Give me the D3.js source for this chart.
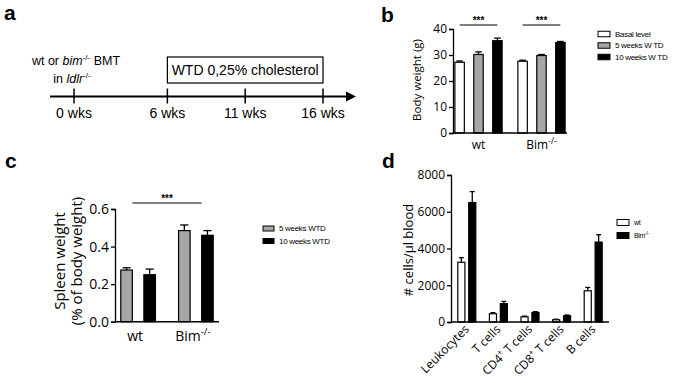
<!DOCTYPE html>
<html>
<head>
<meta charset="utf-8">
<script src="https://cdn.jsdelivr.net/npm/d3@7"></script>
<style>
body { margin: 0; background: #fff; }
svg text { fill: #000; }
.axis path, .axis line { stroke: #000; stroke-width: 1.3; }
</style>
</head>
<body>
<div id="chart"></div>
<script>
// panel a: timeline
const timeWeeks = [0, 6, 11, 16]
const timeLabels = ['0 wks', '6 wks', '11 wks', '16 wks']
const dietWeeks = [6, 16]

// panel b: body weight
const bGroups = ['wt', 'Bim']
const bSeries = ['Basal level', '5 weeks W TD', '10 weeks W TD']
const bMeans = [[27.2, 30.2, 35.5], [27.6, 29.8, 34.8]]
const bErrors = [[0.5, 1.0, 1.0], [0.4, 0.4, 0.4]]
const bTicks = [0, 10, 20, 30, 40]

// panel c: spleen weight
const cGroups = ['wt', 'Bim']
const cSeries = ['5 weeks WTD', '10 weeks WTD']
const cMeans = [[0.275, 0.25], [0.485, 0.46]]
const cErrors = [[0.012, 0.03], [0.03, 0.025]]
const cTicks = [0, 0.2, 0.4, 0.6]

// panel d: blood cell counts
const dGroups = ['Leukocytes', 'T cells', 'CD4 T cells', 'CD8 T cells', 'B cells']
const dSeries = ['wt', 'Bim']
const dMeans = [[3250, 6500], [450, 1000], [280, 520], [120, 340], [1700, 4350]]
const dErrors = [[250, 600], [60, 120], [40, 40], [30, 40], [180, 400]]
const dTicks = [0, 2000, 4000, 6000, 8000]

const W = 675, H = 383
const sans = "'Open Sans', sans-serif"
const arial = "'Liberation Sans', Arial, sans-serif"

const svg = d3.select('#chart').append('svg')
  .attr('width', W).attr('height', H)

// panel letters
const letters = [['a', 4, 20], ['b', 381, 22], ['c', 5, 168], ['d', 382, 168]]
svg.selectAll('.letter').data(letters).enter().append('text')
  .attr('class', 'letter')
  .attr('x', d => d[1]).attr('y', d => d[2])
  .style('font-family', arial).style('font-weight', 'bold').style('font-size', '21px')
  .text(d => d[0])

// label with superscript part, e.g. Bim-/-
function supLabel(sel, base, sup, size) {
  sel.append('tspan').text(base)
  sel.append('tspan').attr('dy', -size * 0.45).style('font-size', (size * 0.7) + 'px').text(sup)
}

// ---------- panel a ----------
function drawTimeline() {
  const g = svg.append('g')
  const x = d3.scaleLinear().domain([0, 16]).range([74, 323])
  const yLine = 96.5
  g.append('line').attr('x1', 50).attr('x2', 348).attr('y1', yLine).attr('y2', yLine)
    .attr('stroke', '#000').attr('stroke-width', 2)
  g.append('path').attr('d', `M346,${yLine - 5}L356,${yLine}L346,${yLine + 5}Z`).attr('fill', '#000')
  g.selectAll('.tk').data(timeWeeks).enter().append('line')
    .attr('x1', d => x(d)).attr('x2', d => x(d)).attr('y1', yLine - 8).attr('y2', yLine + 7)
    .attr('stroke', '#000').attr('stroke-width', 1.5)
  g.selectAll('.tl').data(timeWeeks).enter().append('text')
    .attr('x', d => x(d)).attr('y', 118).attr('text-anchor', 'middle')
    .style('font-family', arial).style('font-size', '14px')
    .text((d, i) => timeLabels[i])
  g.append('rect').attr('x', x(dietWeeks[0])).attr('y', 57)
    .attr('width', x(dietWeeks[1]) - x(dietWeeks[0])).attr('height', 26)
    .attr('fill', 'none').attr('stroke', '#000').attr('stroke-width', 1.2)
  g.append('text').attr('x', (x(dietWeeks[0]) + x(dietWeeks[1])) / 2).attr('y', 75)
    .attr('text-anchor', 'middle').style('font-family', arial).style('font-size', '14px')
    .text('WTD  0,25% cholesterol')
  const t1 = g.append('text').attr('x', 76).attr('y', 65).attr('text-anchor', 'middle')
    .style('font-family', arial).style('font-size', '12.5px')
  t1.append('tspan').text('wt or ')
  t1.append('tspan').style('font-style', 'italic').text('bim')
  t1.append('tspan').attr('dy', -5).style('font-size', '8px').text('-/-')
  t1.append('tspan').attr('dy', 5).text(' BMT')
  const t2 = g.append('text').attr('x', 72).attr('y', 83).attr('text-anchor', 'middle')
    .style('font-family', arial).style('font-size', '12.5px')
  t2.append('tspan').text('in ')
  t2.append('tspan').style('font-style', 'italic').text('ldlr')
  t2.append('tspan').attr('dy', -5).style('font-size', '8px').text('-/-')
}

// ---------- bar panels ----------
function drawBars(o) {
  const g = svg.append('g')
  const x0 = d3.scaleBand().domain(o.groups).range(o.xRange)
    .paddingInner(o.padGroup[0]).paddingOuter(o.padGroup[1])
  const x1 = d3.scaleBand().domain(o.series).range([0, x0.bandwidth()])
    .paddingInner(o.padBar).paddingOuter(0)
  const y = d3.scaleLinear().domain([0, o.ticks[o.ticks.length - 1]]).range(o.yRange)

  const rows = []
  o.groups.forEach((gr, i) => o.series.forEach((s, j) => {
    rows.push({ gr, s, j, m: o.means[i][j], e: o.errors[i][j] })
  }))
  const bx = d => x0(d.gr) + x1(d.s)
  const bw = x1.bandwidth()

  // error bars
  const eb = g.selectAll('.eb').data(rows).enter().append('g').attr('class', 'eb')
    .attr('stroke', '#000').attr('stroke-width', 1.3)
  eb.append('line').attr('x1', d => bx(d) + bw / 2).attr('x2', d => bx(d) + bw / 2)
    .attr('y1', d => y(o.both ? d.m - d.e : d.m)).attr('y2', d => y(d.m + d.e))
  eb.append('line').attr('x1', d => bx(d) + bw * 0.15).attr('x2', d => bx(d) + bw * 0.85)
    .attr('y1', d => y(d.m + d.e)).attr('y2', d => y(d.m + d.e))
  if (o.both) {
    eb.append('line').attr('x1', d => bx(d) + bw * 0.15).attr('x2', d => bx(d) + bw * 0.85)
      .attr('y1', d => y(d.m - d.e)).attr('y2', d => y(d.m - d.e))
  }

  g.selectAll('.bar').data(rows).enter().append('rect')
    .attr('x', bx).attr('width', bw)
    .attr('y', d => y(d.m)).attr('height', d => y(0) - y(d.m))
    .attr('fill', d => o.fills[d.j]).attr('stroke', '#000').attr('stroke-width', 1.2)

  g.append('g').attr('class', 'axis')
    .attr('transform', `translate(${o.xRange[0]},0)`)
    .call(d3.axisLeft(y).tickValues(o.ticks).tickSize(4).tickPadding(2).tickFormat(o.fmt))
    .call(a => a.selectAll('text').style('font-family', sans).style('font-size', o.tickSize + 'px'))
  g.append('line').attr('x1', o.xRange[0]).attr('x2', o.xRange[1])
    .attr('y1', y(0)).attr('y2', y(0)).attr('stroke', '#000').attr('stroke-width', 1.5)

  return { g, x0, x1, y }
}

function legend(items, fills, x, y0, dy, size, w, h) {
  const g = svg.append('g')
  items.forEach((t, i) => {
    g.append('rect').attr('x', x).attr('y', y0 + i * dy - h / 2).attr('width', w).attr('height', h)
      .attr('fill', fills[i]).attr('stroke', '#000').attr('stroke-width', 1)
    const tx = g.append('text').attr('x', x + w + 5).attr('y', y0 + i * dy + size * 0.35)
      .style('font-family', arial).style('font-size', size + 'px').style('letter-spacing', '-0.3px')
    if (t === 'Bim') supLabel(tx, 'Bim', '-/-', size)
    else tx.text(t)
  })
}

function sigBar(xa, xb, yy, size) {
  svg.append('line').attr('x1', xa).attr('x2', xb).attr('y1', yy).attr('y2', yy)
    .attr('stroke', '#000').attr('stroke-width', 1.2)
  svg.append('text').attr('x', (xa + xb) / 2).attr('y', yy - 1).attr('text-anchor', 'middle')
    .style('font-family', arial).style('font-weight', 'bold').style('font-size', size + 'px')
    .text('***')
}

drawTimeline()

// panel b
const bFills = ['#fff', '#a6a6a6', '#000']
const B = drawBars({
  groups: bGroups, series: bSeries, means: bMeans, errors: bErrors, ticks: bTicks,
  xRange: [453, 567], yRange: [133, 29], padGroup: [0.25, 0.03], padBar: 0.5,
  fills: bFills, both: false, tickSize: 12, fmt: d3.format('d')
})
bGroups.forEach(gr => {
  sigBar(B.x0(gr) + B.x1(bSeries[0]) + B.x1.bandwidth() / 2,
    B.x0(gr) + B.x1(bSeries[2]) + B.x1.bandwidth() / 2, 25, 10)
  const t = svg.append('text').attr('x', B.x0(gr) + B.x0.bandwidth() / 2).attr('y', 149)
    .attr('text-anchor', 'middle').style('font-family', sans).style('font-size', '12px')
  if (gr === 'Bim') supLabel(t, 'Bim', '-/-', 12)
  else t.text(gr)
})
svg.append('text').attr('transform', 'translate(421,80) rotate(-90)')
  .attr('text-anchor', 'middle').style('font-family', sans).style('font-size', '11.5px')
  .text('Body weight (g)')
legend(bSeries, bFills, 598, 34, 11.5, 8, 12, 5.5)

// panel c
const cFills = ['#a6a6a6', '#000']
const C = drawBars({
  groups: cGroups, series: cSeries, means: cMeans, errors: cErrors, ticks: cTicks,
  xRange: [115, 219], yRange: [321.7, 209], padGroup: [0.4, 0.1], padBar: 0.5,
  fills: cFills, both: true, tickSize: 14, fmt: d3.format('.1f')
})
sigBar(C.x0('wt') + C.x1(cSeries[0]) + C.x1.bandwidth(), C.x0('Bim') + C.x1(cSeries[1]), 203, 10)
cGroups.forEach(gr => {
  const t = svg.append('text').attr('x', C.x0(gr) + C.x0.bandwidth() / 2 - 3).attr('y', 341)
    .attr('text-anchor', 'middle').style('font-family', sans).style('font-size', '14px')
  if (gr === 'Bim') supLabel(t, 'Bim', '-/-', 14)
  else t.text(gr)
})
const cl = svg.append('text').attr('transform', 'translate(65,261) rotate(-90)')
  .attr('text-anchor', 'middle').style('font-family', sans).style('font-size', '15px')
cl.append('tspan').attr('x', 0).attr('dy', 0).text('Spleen weight')
cl.append('tspan').attr('x', 0).attr('dy', 17).text('(% of body weight)')
legend(cSeries, cFills, 263, 228.5, 12.5, 8, 11, 5)

// panel d
const dFills = ['#fff', '#000']
const D = drawBars({
  groups: dGroups, series: dSeries, means: dMeans, errors: dErrors, ticks: dTicks,
  xRange: [451, 609], yRange: [322, 175], padGroup: [0.43, 0.215], padBar: 0.35,
  fills: dFills, both: false, tickSize: 12, fmt: d3.format('d')
})
dGroups.forEach(gr => {
  const t = svg.append('text')
    .attr('transform', `translate(${D.x0(gr) + D.x0.bandwidth() / 2 + 3},${D.y(0) + 8}) rotate(-45)`)
    .attr('text-anchor', 'end').style('font-family', sans).style('font-size', '12px')
  const parts = gr.split(' ')
  if (parts[0] === 'CD4' || parts[0] === 'CD8') {
    t.append('tspan').text(parts[0])
    t.append('tspan').attr('dy', -5).style('font-size', '8px').text('+')
    t.append('tspan').attr('dy', 5).text(' ' + parts.slice(1).join(' '))
  } else t.text(gr)
})
svg.append('text').attr('transform', 'translate(413,250) rotate(-90)')
  .attr('text-anchor', 'middle').style('font-family', sans).style('font-size', '13px')
  .text('# cells/\u00b5l blood')
legend(dSeries, dFills, 617, 222.5, 13, 7, 12, 6)
</script>
</body>
</html>
